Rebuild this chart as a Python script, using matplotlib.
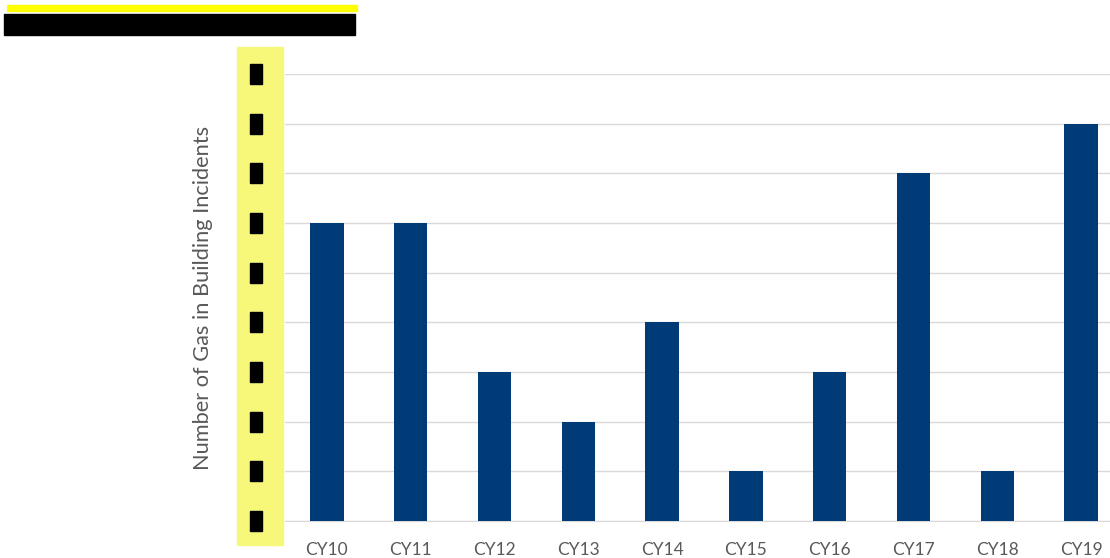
import numpy as np
import matplotlib.pyplot as plt
from matplotlib.patches import Rectangle

years = ['CY10', 'CY11', 'CY12', 'CY13', 'CY14', 'CY15', 'CY16', 'CY17', 'CY18', 'CY19']
incidents = [6, 6, 3, 2, 4, 1, 3, 7, 1, 8]
ylevels = list(range(10))

plt.rcParams['font.family'] = ['Lato', 'DejaVu Sans']

fig = plt.figure(figsize=(11.1, 5.58), dpi=100)
W, H = 1110, 558
# axes in pixel coords: left 285, right ~1123, top 74, bottom 521
ax = fig.add_axes([285 / W, (H - 521) / H, 838 / W, (521 - 74) / H])

x = np.arange(len(years))
ax.bar(x, incidents, width=0.4, color='#003b78', zorder=3)
ax.set_xlim(-0.5, len(years) - 0.5)
ax.set_ylim(0, 9)
ax.set_yticks(ylevels)
ax.yaxis.grid(True, color='#d9d9d9', linewidth=1, zorder=0)
ax.set_yticklabels([])
ax.tick_params(axis='y', length=0)
ax.set_xticks(x)
ax.set_xticklabels(years, fontsize=12.5, color='#595959')
ax.tick_params(axis='x', length=0, pad=15)
for s in ax.spines.values():
    s.set_visible(False)
ax.spines['bottom'].set_visible(True)
ax.spines['bottom'].set_color('#d9d9d9')

fig.text(203 / W, 1 - 298 / H, 'Number of Gas in Building Incidents', rotation=90,
         ha='center', va='center', fontsize=15.7, color='#595959')

# redacted y tick labels
fig.patches.append(Rectangle((237 / W, 1 - 545 / H), 46 / W, 498 / H,
                             transform=fig.transFigure, color='#f7f77a', zorder=1))
for lv in ylevels:
    yp = 521 - lv * (521 - 74) / 9
    fig.patches.append(Rectangle((250 / W, 1 - (yp + 10) / H), 12 / W, 20 / H,
                                 transform=fig.transFigure, color='black', zorder=2))

# redacted title
fig.patches.append(Rectangle((7 / W, 1 - 11 / H), 350 / W, 6 / H,
                             transform=fig.transFigure, color='#ffff00', zorder=1))
fig.patches.append(Rectangle((4 / W, 1 - 35 / H), 351 / W, 21 / H,
                             transform=fig.transFigure, color='black', zorder=2))

fig.savefig('out.png', dpi=100)
